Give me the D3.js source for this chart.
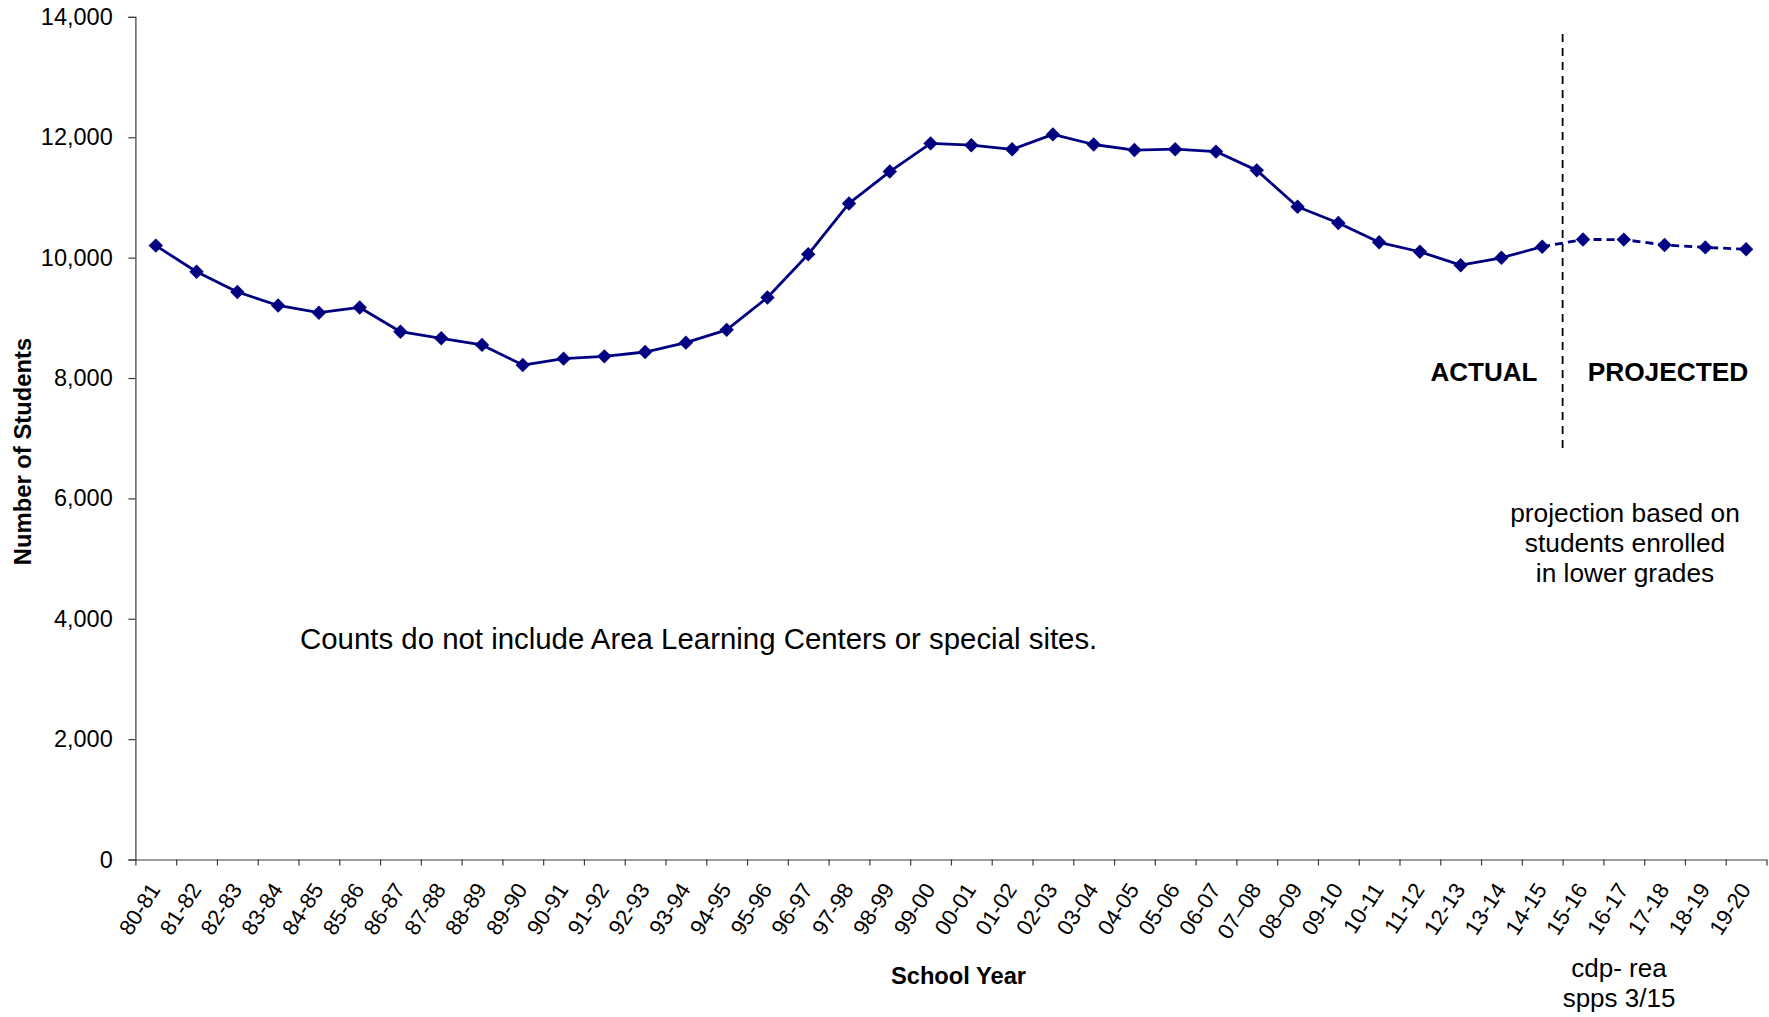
<!DOCTYPE html>
<html>
<head>
<meta charset="utf-8">
<script src="https://cdn.jsdelivr.net/npm/d3@7/dist/d3.min.js"></script>
<style>
  html, body { margin: 0; padding: 0; background: #ffffff; }
  svg { display: block; font-family: "Liberation Sans", Arial, Helvetica, sans-serif; }
</style>
</head>
<body>
<svg id="chart" width="1769" height="1017"></svg>
<script>
// School years on the category axis
const schoolYears = [
  "80-81", "81-82", "82-83", "83-84", "84-85", "85-86", "86-87", "87-88", "88-89", "89-90",
  "90-91", "91-92", "92-93", "93-94", "94-95", "95-96", "96-97", "97-98", "98-99", "99-00",
  "00-01", "01-02", "02-03", "03-04", "04-05", "05-06", "06-07", "07–08", "08–09", "09-10",
  "10-11", "11-12", "12-13", "13-14", "14-15", "15-16", "16-17", "17-18", "18-19", "19-20"
];

// Enrolled students, actual counts (80-81 through 14-15)
const actualStudents = [
  10200, 9765, 9430, 9205, 9085, 9172, 8770, 8660, 8550, 8215,
  8322, 8360, 8432, 8588, 8800, 9338, 10055, 10900, 11430, 11898,
  11868, 11800, 12048, 11880, 11788, 11802, 11762, 11450, 10845, 10575,
  10255, 10098, 9875, 9998, 10182
];

// Projected students (15-16 through 19-20)
const projectedStudents = [10302, 10300, 10210, 10170, 10140];

// Value axis ticks
const studentTicks = [0, 2000, 4000, 6000, 8000, 10000, 12000, 14000];

// Notes drawn on the chart
const noteLines = ["projection based on", "students enrolled", "in lower grades"];
const sourceLines = ["cdp- rea", "spps 3/15"];

const navy = "#000080";
const axisColor = "#3a3a3a";

const svg = d3.select("#chart");
const plotLeft = 135.4, plotRight = 1766.5, plotTop = 16.9, plotBottom = 859.5;

const x = d3.scaleBand().domain(schoolYears).range([plotLeft, plotRight]).padding(0);
const edge = d3.scaleLinear().domain([0, schoolYears.length]).range([plotLeft, plotRight]);
const y = d3.scaleLinear().domain([0, 14000]).range([plotBottom, plotTop]);

const cx = yr => x(yr) + x.bandwidth() / 2;

// Y axis
const yAxis = svg.append("g")
  .attr("transform", `translate(${plotLeft},0)`)
  .call(d3.axisLeft(y).tickValues(studentTicks).tickFormat(d3.format(",")).tickSize(7).tickPadding(15.7));
yAxis.selectAll("path, line").attr("stroke", axisColor).attr("stroke-width", 1.2);
yAxis.selectAll("text").attr("font-size", 23.5).attr("fill", "#000")
  .attr("font-family", "'Liberation Sans', Arial, sans-serif");

// X axis: tick marks on category boundaries
const xTicks = svg.append("g")
  .attr("transform", `translate(0,${plotBottom})`)
  .call(d3.axisBottom(edge).tickValues(d3.range(schoolYears.length + 1)).tickFormat("").tickSize(6).tickSizeOuter(0));
xTicks.selectAll("path, line").attr("stroke", axisColor).attr("stroke-width", 1.2);

// X axis: rotated category labels
const xLabels = svg.append("g")
  .attr("transform", `translate(0,${plotBottom})`)
  .call(d3.axisBottom(x).tickSize(0));
xLabels.select(".domain").remove();
xLabels.selectAll("text")
  .attr("x", 0).attr("y", 0).attr("dy", 0)
  .attr("text-anchor", "end")
  .attr("transform", "translate(5.5,30) rotate(-57)")
  .attr("font-size", 22).attr("fill", "#000")
  .attr("font-family", "'Liberation Sans', Arial, sans-serif");

// Series data
const actualData = actualStudents.map((v, i) => ({ yr: schoolYears[i], v }));
const projectedData = projectedStudents.map((v, i) => ({ yr: schoolYears[actualStudents.length + i], v }));

const line = d3.line().x(d => cx(d.yr)).y(d => y(d.v));

// Divider between actual and projected years
svg.append("line")
  .attr("x1", edge(actualStudents.length)).attr("x2", edge(actualStudents.length))
  .attr("y1", 34).attr("y2", 448)
  .attr("stroke", "#000").attr("stroke-width", 1.8).attr("stroke-dasharray", "8,6");

svg.append("path")
  .datum(actualData)
  .attr("d", line)
  .attr("fill", "none").attr("stroke", navy).attr("stroke-width", 2.8)
  .attr("stroke-linejoin", "round");

svg.append("path")
  .datum([actualData[actualData.length - 1], ...projectedData])
  .attr("d", line)
  .attr("fill", "none").attr("stroke", navy).attr("stroke-width", 2.8)
  .attr("stroke-dasharray", "8,5");

// Diamond markers
const diamond = d3.symbol().type(d3.symbolSquare).size(104);
svg.append("g").selectAll("path")
  .data([...actualData, ...projectedData])
  .join("path")
  .attr("d", diamond)
  .attr("transform", d => `translate(${cx(d.yr)},${y(d.v)}) rotate(45)`)
  .attr("fill", navy);

// Axis titles
svg.append("text")
  .attr("x", 958.5).attr("y", 984)
  .attr("text-anchor", "middle").attr("font-weight", "bold").attr("font-size", 23.7)
  .text("School Year");

svg.append("text")
  .attr("transform", "translate(31,451.5) rotate(-90)")
  .attr("text-anchor", "middle").attr("font-weight", "bold").attr("font-size", 23.8)
  .text("Number of Students");

// Section labels
svg.append("text")
  .attr("x", 1484).attr("y", 381)
  .attr("text-anchor", "middle").attr("font-weight", "bold").attr("font-size", 26)
  .text("ACTUAL");
svg.append("text")
  .attr("x", 1668).attr("y", 381)
  .attr("text-anchor", "middle").attr("font-weight", "bold").attr("font-size", 26.3)
  .text("PROJECTED");

// Projection note
svg.append("g").selectAll("text")
  .data(noteLines)
  .join("text")
  .attr("x", 1625).attr("y", (d, i) => 522 + i * 30)
  .attr("text-anchor", "middle").attr("font-size", 26.3)
  .text(d => d);

// Coverage note
svg.append("text")
  .attr("x", 300).attr("y", 649)
  .attr("font-size", 29.4)
  .text("Counts do not include Area Learning Centers or special sites.");

// Source line
svg.append("g").selectAll("text")
  .data(sourceLines)
  .join("text")
  .attr("x", 1619).attr("y", (d, i) => 977 + i * 30)
  .attr("text-anchor", "middle").attr("font-size", 26)
  .text(d => d);
</script>
</body>
</html>
